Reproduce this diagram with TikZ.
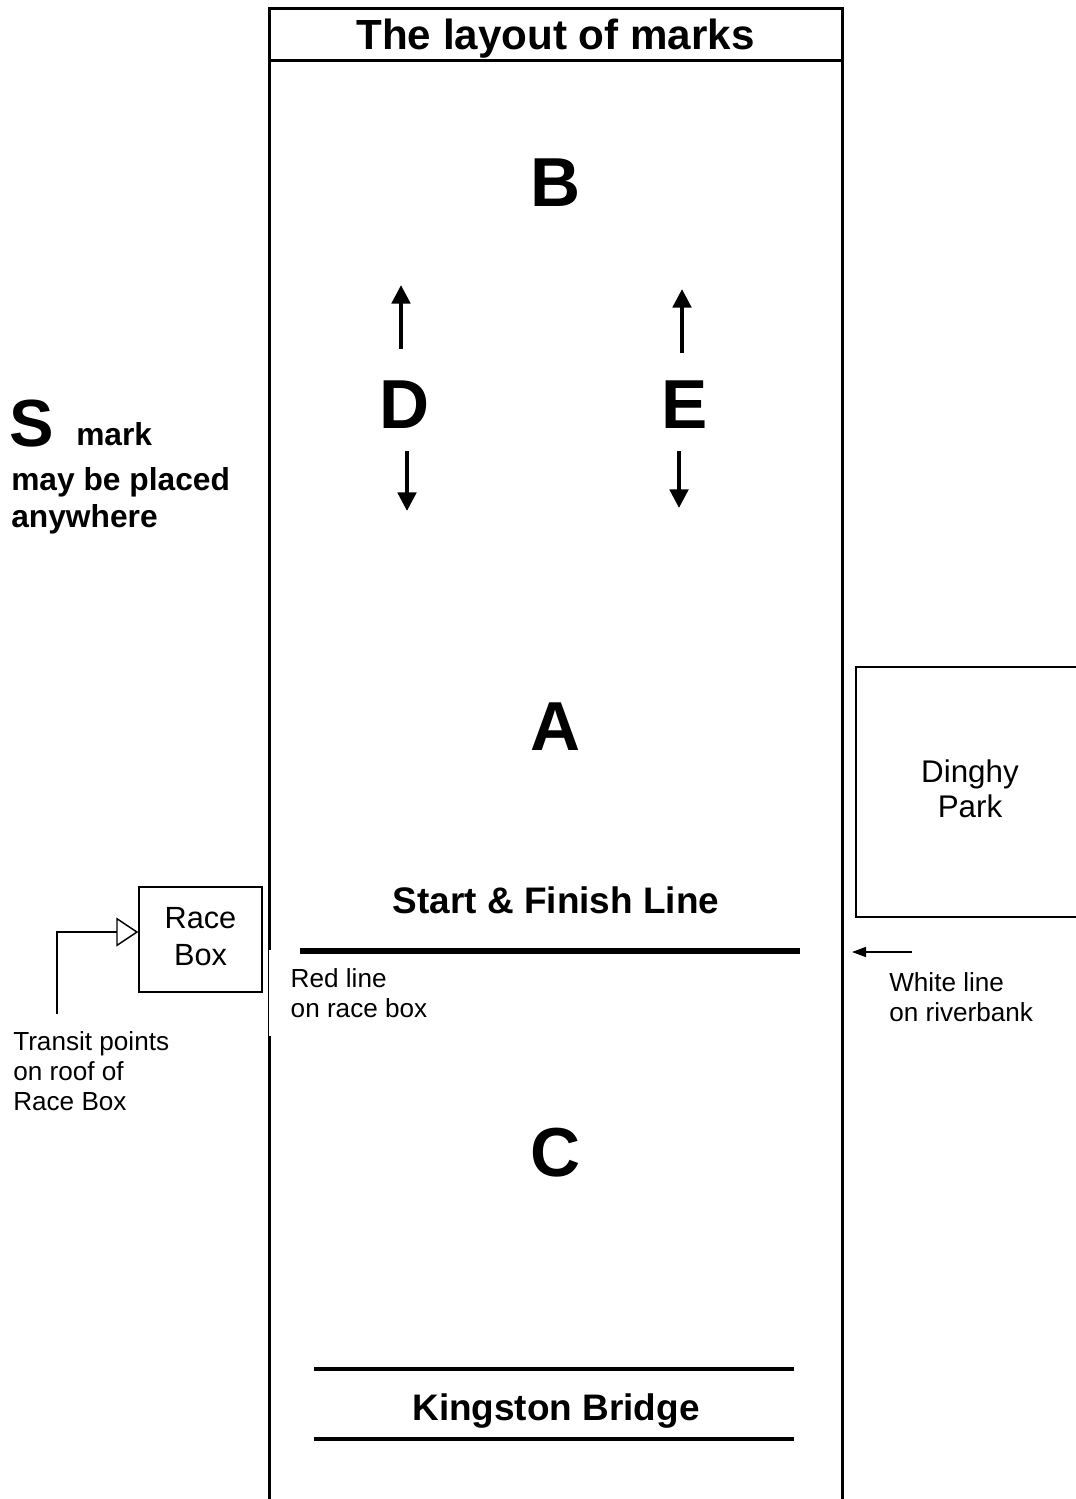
\documentclass[tikz,border=0pt]{standalone}
\usepackage{fontspec}
\setmainfont{Liberation Sans}
\usetikzlibrary{arrows.meta, positioning}

\begin{document}
\begin{tikzpicture}[x=0.75pt, y=-0.75pt,
    shore/.style={line width=2.25pt},
    bigmark/.style={font=\fontsize{52}{60}\selectfont\bfseries, inner sep=0pt},
    heading/.style={font=\fontsize{27.7}{33}\selectfont\bfseries, inner sep=0pt},
    boldnote/.style={font=\fontsize{23.8}{27.75}\selectfont\bfseries, align=left, inner sep=0pt},
    note/.style={font=\fontsize{19.6}{22.5}\selectfont, align=left, inner sep=0pt},
    plainbox/.style={draw, align=center, font=\fontsize{23}{28}\selectfont},
    dirarrow/.style={line width=3.6pt, -{Triangle[length=14pt, width=13.5pt]}}]

    \useasboundingbox (0,0) rectangle (1075,1499);

    % river with its heading
    \node[draw, shore, outer sep=0pt, minimum width=429.75pt, minimum height=39pt, anchor=north,
        font=\fontsize{31.6}{36}\selectfont\bfseries, text depth=0pt] (title) at (555.5,8) {The layout of marks};
    \draw[shore] (title.south west) -- ++(0,1460);
    \draw[shore] (title.south east) -- ++(0,1460);

    % marks
    \node[bigmark] (markB) at (556,183) {B};
    \node[bigmark] (markD) at (405,405) {D};
    \node[bigmark] (markE) at (685,405) {E};
    \node[bigmark] (markA) at (556,727) {A};
    \node[bigmark] (markC) at (556,1153) {C};

    \draw[dirarrow] ([shift={(-4,-32)}]markD.north) -- ++(0,-64);
    \draw[dirarrow] ([shift={(2,22)}]markD.south) -- ++(0,60);
    \draw[dirarrow] ([shift={(-3,-28)}]markE.north) -- ++(0,-64);
    \draw[dirarrow] ([shift={(-6,22)}]markE.south) -- ++(0,57);

    % S mark
    \node[font=\fontsize{50}{56}\selectfont\bfseries, inner sep=0pt, anchor=base west] (smark) at (9,446) {S};
    \node[boldnote, anchor=base west] (smarkword) at (76,445) {mark};
    \node[boldnote, anchor=base west] (smarknote) at (11,527) {may be placed\\anywhere};

    % start and finish
    \node[heading, anchor=base] (startname) at (556,913) {Start \& Finish Line};
    \node[note, fill=white, anchor=north west, inner xsep=16.1pt, inner ysep=13.7pt] (redlabel) at (269,950) {Red line\\on race box};
    \draw[line width=4.5pt] (300,951) -- (800,951);

    \node[plainbox, line width=1.1pt, minimum width=92.25pt, minimum height=78.75pt] (racebox) at (200.5,939.5) {Race\\Box\vphantom{g}};
    \coordinate (transitfoot) at (57,1014);
    \draw[line width=1.1pt, -{Triangle[open, length=16.5pt, width=21.75pt, fill=white]}] (transitfoot) |- ([yshift=5.6pt]racebox.west);
    \node[note, anchor=base west] (transitnote) at (13,1110) {Transit points\\on roof of\\Race Box};

    \node[plainbox, line width=1.5pt, minimum width=171pt, minimum height=187.5pt,
        font=\fontsize{23.5}{26.25}\selectfont] (dinghy) at (970,792) {Dinghy\\Park\vphantom{g}};
    \coordinate (whitetail) at (912,952);
    \draw[line width=1.1pt, -{Triangle[length=10.5pt, width=7.5pt]}] (whitetail) -- ++(-60,0);
    \node[note, anchor=base west] (whitenote) at (889,1021) {White line\\on riverbank};

    % bridge
    \draw[line width=3pt] (314,1369) -- (794,1369);
    \node[heading, anchor=base] (bridge) at (556,1420) {Kingston Bridge};
    \draw[line width=3pt] (314,1439) -- (794,1439);
\end{tikzpicture}
\end{document}
